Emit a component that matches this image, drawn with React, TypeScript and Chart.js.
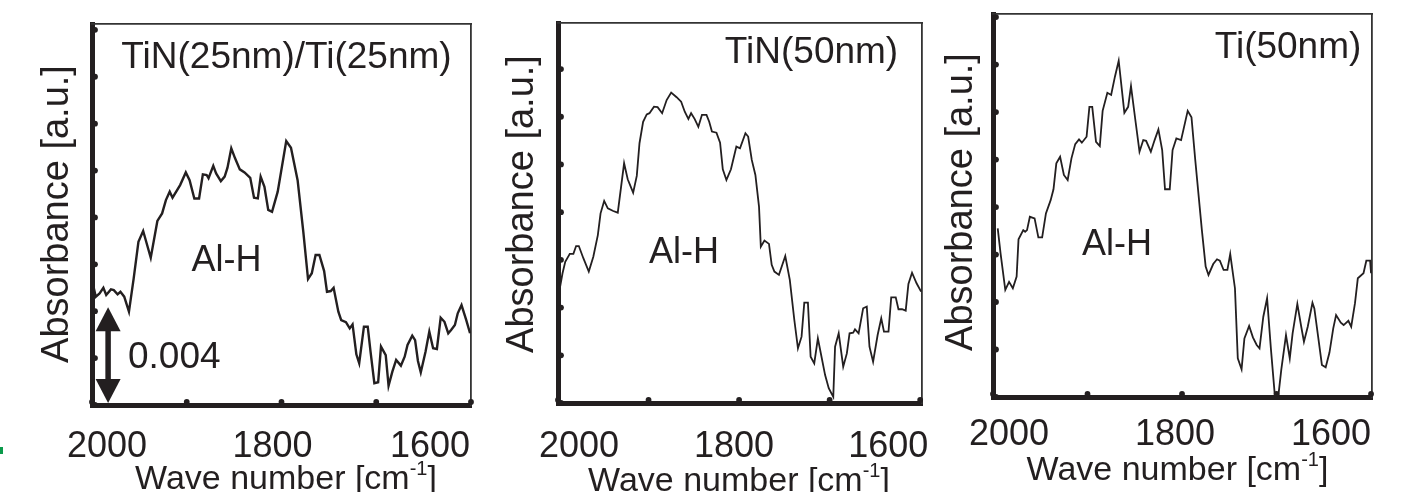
import React, { useEffect, useRef } from "react";
import { Chart, registerables } from "chart.js";

Chart.register(...registerables);

// ---------------- DATA (absorbance in units of 10^-3 a.u.) ----------------
const tinTiWavenumber = [
  1999, 1996, 1992, 1988, 1985, 1980, 1977, 1973, 1970, 1966,
  1961, 1956, 1951, 1946, 1938, 1931, 1926, 1922, 1918, 1915,
  1907, 1901, 1897, 1892, 1887, 1883, 1879, 1877, 1872, 1869,
  1864, 1860, 1857, 1853, 1849, 1844, 1839, 1833, 1829, 1825,
  1822, 1818, 1814, 1810, 1804, 1795, 1790, 1783, 1777, 1772,
  1768, 1764, 1760, 1755, 1752, 1748, 1745, 1740, 1737, 1732,
  1728, 1725, 1721, 1718, 1713, 1709, 1706, 1702, 1698, 1695,
  1690, 1687, 1683, 1679, 1674, 1670, 1667, 1662, 1659, 1656,
  1653, 1648, 1644, 1640, 1636, 1632, 1628, 1624, 1621, 1617,
  1614, 1610, 1605, 1601,
];
const tinTiAbsorbance = [
  5.15, 4.62, 4.76, 5.0, 4.69, 4.93, 4.9, 4.72, 4.83, 4.62,
  3.98, 5.4, 6.96, 7.42, 6.28, 7.85, 8.17, 8.74, 9.1, 8.84,
  9.38, 9.92, 9.59, 8.81, 8.81, 9.84, 9.81, 9.67, 10.2, 9.88,
  9.55, 9.74, 10.12, 10.95, 10.52, 10.05, 9.92, 9.69, 8.84, 8.81,
  9.74, 9.31, 8.32, 8.24, 9.1, 11.26, 10.97, 9.59, 7.39, 5.37,
  5.62, 6.4, 6.4, 5.71, 4.83, 4.86, 5.0, 3.98, 3.62, 3.53,
  3.27, 3.44, 2.16, 1.78, 3.34, 3.34, 2.27, 0.93, 0.97, 2.49,
  2.13, 0.82, 1.42, 1.92, 1.68, 2.06, 2.56, 2.96, 2.77, 1.88,
  1.39, 2.27, 3.13, 2.42, 2.39, 3.72, 3.55, 3.06, 3.2, 3.41,
  3.91, 4.26, 3.62, 3.06,
];

const tinWavenumber = [
  1998, 1995, 1992, 1987, 1983, 1980, 1977, 1972, 1966, 1961,
  1956, 1953, 1949, 1945, 1939, 1934, 1927, 1923, 1917, 1913,
  1910, 1906, 1902, 1899, 1894, 1890, 1885, 1880, 1875, 1869,
  1864, 1860, 1856, 1853, 1849, 1845, 1841, 1836, 1833, 1830,
  1825, 1821, 1818, 1814, 1809, 1803, 1799, 1793, 1790, 1786,
  1782, 1778, 1776, 1772, 1767, 1764, 1761, 1756, 1753, 1749,
  1744, 1739, 1735, 1731, 1728, 1724, 1721, 1717, 1713, 1709,
  1705, 1701, 1696, 1694, 1690, 1685, 1681, 1678, 1674, 1672,
  1668, 1663, 1659, 1656, 1652, 1647, 1643, 1640, 1635, 1632,
  1627, 1624, 1620, 1616, 1613, 1609, 1604, 1599,
];
const tinAbsorbance = [
  4.81, 5.44, 5.92, 6.25, 6.25, 6.58, 6.58, 6.07, 5.51, 6.13,
  7.04, 7.95, 8.47, 8.16, 8.05, 7.98, 10.05, 9.38, 8.82, 9.52,
  10.89, 11.79, 12.1, 12.15, 12.42, 12.4, 12.15, 12.7, 13.01, 12.82,
  12.63, 12.21, 11.91, 12.15, 11.9, 11.58, 12.08, 12.08, 11.79, 11.38,
  11.33, 10.91, 9.8, 9.35, 9.8, 10.75, 10.68, 11.31, 11.17, 10.19,
  9.56, 8.23, 6.55, 6.81, 6.67, 5.79, 5.51, 5.37, 5.71, 6.16,
  5.16, 3.48, 2.29, 2.78, 4.21, 4.21, 1.94, 1.66, 2.71, 1.94,
  1.17, 0.62, 0.26, 2.36, 2.92, 1.52, 2.08, 2.92, 2.95, 3.09,
  2.92, 3.97, 4.04, 2.36, 1.73, 2.85, 3.55, 2.99, 2.99, 4.43,
  4.43, 3.93, 3.93, 3.87, 4.99, 5.46, 5.02, 4.67,
];

const tiWavenumber = [
  1995, 1992, 1987, 1983, 1979, 1975, 1973, 1968, 1966, 1964,
  1961, 1956, 1952, 1948, 1944, 1939, 1936, 1933, 1929, 1925,
  1921, 1917, 1913, 1909, 1906, 1901, 1898, 1895, 1891, 1887,
  1884, 1879, 1875, 1871, 1867, 1861, 1857, 1854, 1849, 1845,
  1841, 1838, 1833, 1829, 1825, 1821, 1818, 1813, 1810, 1806,
  1801, 1794, 1790, 1786, 1782, 1779, 1775, 1772, 1767, 1763,
  1760, 1756, 1752, 1749, 1744, 1741, 1737, 1734, 1729, 1725,
  1721, 1718, 1714, 1710, 1706, 1702, 1698, 1695, 1690, 1686,
  1683, 1678, 1674, 1671, 1667, 1662, 1660, 1656, 1652, 1648,
  1644, 1640, 1637, 1632, 1629, 1624, 1621, 1617, 1614, 1608,
  1605, 1601, 1600,
];
const tiAbsorbance = [
  7.1, 6.05, 4.51, 4.85, 4.58, 5.07, 6.64, 7.03, 6.96, 7.03,
  7.59, 7.52, 6.72, 6.72, 7.73, 8.29, 8.75, 9.84, 10.12, 9.35,
  9.14, 10.05, 10.65, 10.85, 10.71, 10.96, 12.22, 12.22, 10.75, 10.57,
  12.05, 12.81, 12.72, 13.49, 14.16, 11.97, 12.22, 13.09, 11.55, 10.33,
  10.82, 10.79, 10.33, 10.82, 11.27, 10.4, 8.75, 8.75, 10.4, 10.89,
  10.82, 12.05, 11.78, 9.98, 8.29, 7.03, 5.49, 5.14, 5.6, 5.8,
  5.74, 5.35, 5.35, 6.02, 4.58, 1.63, 1.17, 2.47, 2.99, 2.51,
  2.19, 2.05, 3.38, 4.16, 2.05, 0.16, 0.08, 1.14, 2.61, 1.63,
  2.68, 3.92, 2.99, 2.33, 2.96, 3.97, 3.73, 2.54, 1.35, 1.25,
  1.87, 2.89, 3.45, 3.13, 3.03, 3.21, 2.96, 3.95, 5.0, 5.21,
  5.74, 5.74, 5.21,
];

const xTickValues = [2000, 1900, 1800, 1700, 1600];
const xLabelValues = [2000, 1800, 1600];
const yTickValues = [0, 2, 4, 6, 8, 10, 12, 14, 16];
const panelTitles = ["TiN(25nm)/Ti(25nm)", "TiN(50nm)", "Ti(50nm)"];
const bandLabel = "Al-H";
const scaleBarFrom = 0;
const scaleBarTo = 4; // 0.004 a.u.
const scaleBarWavenumber = 1983;
const scaleBarLabel = "0.004";
const yAxisTitle = "Absorbance [a.u.]";
const xAxisTitleMain = "Wave number [cm";
const xAxisTitleSup = "-1";
const xAxisTitleEnd = "]";

// ---------------- STYLE / LAYOUT ----------------
const W = 1425;
const H = 492;
const INK = "#231f20";
const FONT = '"Liberation Sans", Arial, Helvetica, sans-serif';

type PanelCfg = {
  key: string;
  wn: number[];
  abs: number[];
  title: string;
  xMin: number;
  yMax: number;
  area: { left: number; top: number; right: number; bottom: number };
  lineWidth: number;
  tickDx: number[];
  tickBaseline: number;
  xTitleCx: number;
  xTitleBaseline: number;
  yTitleX: number;
  yTitleCy: number;
  titleCx: number;
  titleBaseline: number;
  bandCx: number;
  bandBaseline: number;
  scaleBar: boolean;
};

const panels: PanelCfg[] = [
  {
    key: "p1", wn: tinTiWavenumber, abs: tinTiAbsorbance, title: panelTitles[0],
    xMin: 1600, yMax: 16.25,
    area: { left: 92, top: 24, right: 471, bottom: 405 }, lineWidth: 2.4,
    tickDx: [15, -9, -41], tickBaseline: 457,
    xTitleCx: 286, xTitleBaseline: 489, yTitleX: 68, yTitleCy: 214,
    titleCx: 286.5, titleBaseline: 68, bandCx: 226.5, bandBaseline: 271, scaleBar: true,
  },
  {
    key: "p2", wn: tinWavenumber, abs: tinAbsorbance, title: panelTitles[1],
    xMin: 1598, yMax: 15.93,
    area: { left: 558, top: 23, right: 922, bottom: 403 }, lineWidth: 1.8,
    tickDx: [21, -5, -32], tickBaseline: 457,
    xTitleCx: 739, xTitleBaseline: 491, yTitleX: 533, yTitleCy: 204,
    titleCx: 811.5, titleBaseline: 63, bandCx: 684, bandBaseline: 263, scaleBar: false,
  },
  {
    key: "p3", wn: tiWavenumber, abs: tiAbsorbance, title: panelTitles[2],
    xMin: 1599, yMax: 16.13,
    area: { left: 993, top: 14, right: 1372, bottom: 397 }, lineWidth: 1.8,
    tickDx: [16, -7, -40], tickBaseline: 445,
    xTitleCx: 1177.5, xTitleBaseline: 480, yTitleX: 972, yTitleCy: 202,
    titleCx: 1288, titleBaseline: 58, bandCx: 1117, bandBaseline: 255, scaleBar: false,
  },
];

function makeDecorPlugin(p: PanelCfg) {
  return {
    id: "decor_" + p.key,
    afterDraw(chart: any) {
      const ctx: CanvasRenderingContext2D = chart.ctx;
      const xs = chart.scales.x;
      const ys = chart.scales.y;
      const a = chart.chartArea;
      ctx.save();
      ctx.fillStyle = INK;
      ctx.strokeStyle = INK;

      // inward tick dots
      for (const v of xTickValues) {
        const px = xs.getPixelForValue(v);
        if (px < a.left - 1 || px > a.right + 1) continue;
        ctx.beginPath();
        ctx.arc(px, a.bottom - 3, 2.9, 0, Math.PI * 2);
        ctx.fill();
      }
      for (const v of yTickValues) {
        const py = ys.getPixelForValue(v);
        if (py < a.top - 1 || py > a.bottom + 1) continue;
        ctx.beginPath();
        ctx.arc(a.left + 3, py, 2.9, 0, Math.PI * 2);
        ctx.fill();
      }

      // x tick labels
      ctx.font = `36px ${FONT}`;
      ctx.textAlign = "center";
      ctx.textBaseline = "alphabetic";
      xLabelValues.forEach((v, i) => {
        ctx.fillText(String(v), xs.getPixelForValue(v) + p.tickDx[i], p.tickBaseline);
      });

      // x axis title with superscript
      ctx.textAlign = "left";
      ctx.font = `34px ${FONT}`;
      const wMain = ctx.measureText(xAxisTitleMain).width;
      const wEnd = ctx.measureText(xAxisTitleEnd).width;
      ctx.font = `20px ${FONT}`;
      const wSup = ctx.measureText(xAxisTitleSup).width;
      let x0 = p.xTitleCx - (wMain + wSup + wEnd) / 2;
      ctx.font = `34px ${FONT}`;
      ctx.fillText(xAxisTitleMain, x0, p.xTitleBaseline);
      x0 += wMain;
      ctx.font = `20px ${FONT}`;
      ctx.fillText(xAxisTitleSup, x0, p.xTitleBaseline - 14);
      x0 += wSup;
      ctx.font = `34px ${FONT}`;
      ctx.fillText(xAxisTitleEnd, x0, p.xTitleBaseline);

      // y axis title
      ctx.save();
      ctx.translate(p.yTitleX, p.yTitleCy);
      ctx.rotate(-Math.PI / 2);
      ctx.textAlign = "center";
      ctx.font = `38px ${FONT}`;
      ctx.fillText(yAxisTitle, 0, 0);
      ctx.restore();

      // panel title
      ctx.textAlign = "center";
      ctx.font = `37px ${FONT}`;
      ctx.fillText(p.title, p.titleCx, p.titleBaseline);

      // band label
      ctx.font = `36px ${FONT}`;
      ctx.fillText(bandLabel, p.bandCx, p.bandBaseline);

      // scale bar (double arrow)
      if (p.scaleBar) {
        const bx = xs.getPixelForValue(scaleBarWavenumber);
        const yTop = ys.getPixelForValue(scaleBarTo) - 4;
        const yBot = ys.getPixelForValue(scaleBarFrom) - 2;
        const headL = 24;
        const headHW = 12.5;
        ctx.lineWidth = 5.5;
        ctx.beginPath();
        ctx.moveTo(bx, yTop + headL - 2);
        ctx.lineTo(bx, yBot - headL + 2);
        ctx.stroke();
        ctx.beginPath();
        ctx.moveTo(bx, yTop);
        ctx.lineTo(bx + headHW, yTop + headL);
        ctx.lineTo(bx - headHW, yTop + headL);
        ctx.closePath();
        ctx.fill();
        ctx.beginPath();
        ctx.moveTo(bx, yBot);
        ctx.lineTo(bx + headHW, yBot - headL);
        ctx.lineTo(bx - headHW, yBot - headL);
        ctx.closePath();
        ctx.fill();
        ctx.textAlign = "left";
        ctx.font = `37px ${FONT}`;
        ctx.fillText(scaleBarLabel, 128, 368);
      }
      ctx.restore();
    },
  };
}

const hiddenGrid = { display: false, drawTicks: false, tickLength: 0 };

function buildConfig(p: PanelCfg): any {
  return {
    type: "scatter",
    data: {
      datasets: [
        {
          data: p.wn.map((w, i) => ({ x: w, y: p.abs[i] })),
          showLine: true,
          borderColor: INK,
          borderWidth: p.lineWidth,
          borderJoinStyle: "miter",
          pointRadius: 0,
          tension: 0,
          fill: false,
        },
      ],
    },
    options: {
      responsive: false,
      animation: false,
      devicePixelRatio: 1,
      events: [],
      layout: {
        padding: {
          left: p.area.left,
          top: p.area.top,
          right: W - p.area.right,
          bottom: H - p.area.bottom,
        },
      },
      plugins: { legend: { display: false }, tooltip: { enabled: false }, title: { display: false } },
      scales: {
        x: {
          type: "linear", position: "bottom", reverse: true, min: p.xMin, max: 2000,
          grid: hiddenGrid, ticks: { display: false, stepSize: 100, padding: 0 },
          border: { display: true, color: INK, width: 5 },
        },
        y: {
          type: "linear", position: "left", min: 0, max: p.yMax,
          grid: hiddenGrid, ticks: { display: false, stepSize: 2, padding: 0 },
          border: { display: true, color: INK, width: 5 },
        },
        x2: {
          type: "linear", position: "top", min: 0, max: 1,
          grid: hiddenGrid, ticks: { display: false, padding: 0 },
          border: { display: true, color: "#333", width: 1.8 },
        },
        y2: {
          type: "linear", position: "right", min: 0, max: 1,
          grid: hiddenGrid, ticks: { display: false, padding: 0 },
          border: { display: true, color: "#333", width: 1.8 },
        },
      },
    },
    plugins: [makeDecorPlugin(p)],
  };
}

function Panel({ cfg }: { cfg: PanelCfg }) {
  const ref = useRef<HTMLCanvasElement>(null);
  useEffect(() => {
    const chart = new Chart(ref.current as HTMLCanvasElement, buildConfig(cfg));
    return () => chart.destroy();
  }, [cfg]);
  return (
    <canvas
      ref={ref}
      width={W}
      height={H}
      style={{ position: "absolute", left: 0, top: 0, width: W, height: H }}
    />
  );
}

export default function App() {
  return (
    <div
      style={{
        position: "absolute",
        left: 0,
        top: 0,
        width: W,
        height: H,
        background: "#ffffff",
        overflow: "hidden",
      }}
    >
      {panels.map((p) => (
        <Panel key={p.key} cfg={p} />
      ))}
      <div
        style={{ position: "absolute", left: 0, top: 447, width: 3, height: 7, background: "#0a9a4a" }}
      />
    </div>
  );
}
